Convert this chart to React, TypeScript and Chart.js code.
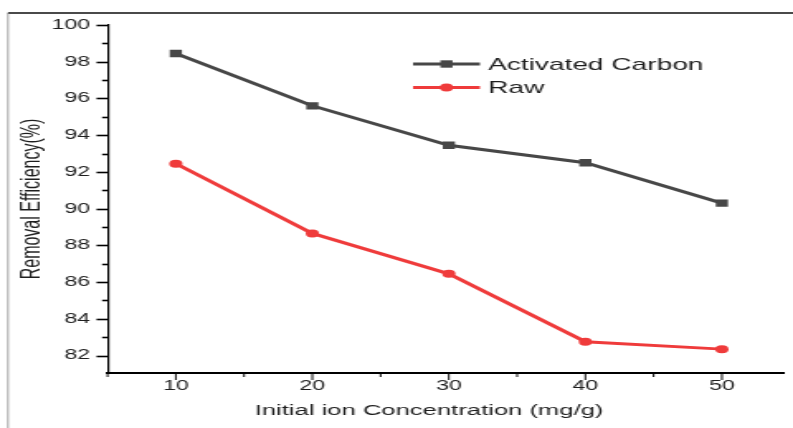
import React, { useEffect, useRef } from "react";
import { Chart, registerables } from "chart.js";

Chart.register(...registerables);

// Removal efficiency vs. initial ion concentration
const concentrations = [10, 20, 30, 40, 50];
const activatedCarbon = [98.45, 95.6, 93.45, 92.5, 90.3];
const raw = [92.45, 88.65, 86.45, 82.75, 82.35];
const seriesNames = ["Activated Carbon", "Raw"];
const xTickValues = [10, 20, 30, 40, 50];
const yTickValues = [82, 84, 86, 88, 90, 92, 94, 96, 98, 100];
const xTitle = "Initial ion Concentration (mg/g)";
const yTitle = "Removal Efficiency(%)";

// The plot is drawn on a narrow bitmap and widened by CSS,
// which gives the horizontally stretched look of the figure.
const VIEW_W = 793;
const VIEW_H = 428;
const STRETCH = 1.652;
const CANVAS_W = Math.round(VIEW_W / STRETCH);

const FONT = "'Liberation Sans', Arial, Helvetica, sans-serif";
const TEXT = "#1e1e1e";
const AXIS = "#000000";

const PLOT_TOP = 25;
const PLOT_BOTTOM = 373;
const PLOT_LEFT = 65.1;
const PLOT_RIGHT = 478.2;

function drawMarker(ctx: CanvasRenderingContext2D, style: string, x: number, y: number, r: number, color: string) {
  ctx.fillStyle = color;
  ctx.beginPath();
  if (style === "rect") {
    const s = r * Math.SQRT1_2;
    ctx.rect(x - s, y - s, 2 * s, 2 * s);
  } else {
    ctx.arc(x, y, r, 0, Math.PI * 2);
  }
  ctx.fill();
}

const decorations = {
  id: "decorations",
  beforeDraw(chart: any) {
    const ctx: CanvasRenderingContext2D = chart.ctx;
    ctx.save();
    // frame: top and left edges
    ctx.strokeStyle = "#4a4a4a";
    ctx.lineWidth = 2;
    ctx.beginPath();
    ctx.moveTo(4.8, 13);
    ctx.lineTo(chart.width, 13);
    ctx.stroke();
    ctx.strokeStyle = "#777777";
    ctx.lineWidth = 0.7;
    ctx.beginPath();
    ctx.moveTo(4.85, 13);
    ctx.lineTo(4.85, chart.height);
    ctx.stroke();
    ctx.restore();
  },
  afterDraw(chart: any) {
    const ctx: CanvasRenderingContext2D = chart.ctx;
    const { chartArea, scales } = chart;
    const xs = scales.x;
    const ys = scales.y;
    ctx.save();
    ctx.strokeStyle = AXIS;

    // y tick marks: long at labelled values, short in between
    ctx.lineWidth = 1.6;
    for (let v = Math.ceil(ys.min); v <= ys.max; v++) {
      const len = v % 2 === 0 ? 6.7 : 3.3;
      const py = Math.round(ys.getPixelForValue(v)) + 0.5;
      ctx.beginPath();
      ctx.moveTo(chartArea.left - len, py);
      ctx.lineTo(chartArea.left, py);
      ctx.stroke();
    }

    // x tick marks
    ctx.lineWidth = 1.6 / STRETCH;
    for (let v = 5; v <= xs.max; v += 5) {
      const len = v % 10 === 0 ? 7 : 4;
      const px = xs.getPixelForValue(v);
      ctx.beginPath();
      ctx.moveTo(px, chartArea.bottom);
      ctx.lineTo(px, chartArea.bottom + len);
      ctx.stroke();
    }

    // x axis title
    ctx.fillStyle = TEXT;
    ctx.font = `15.5px ${FONT}`;
    ctx.textAlign = "center";
    ctx.textBaseline = "middle";
    ctx.fillText(xTitle, chartArea.left + (chartArea.right - chartArea.left) * 0.475, 411);

    // legend
    const lx0 = 250;
    const lx1 = 290.5;
    const rows = [64, 87.5];
    chart.data.datasets.forEach((ds: any, i: number) => {
      const y = rows[i];
      ctx.strokeStyle = ds.borderColor;
      ctx.lineWidth = ds.borderWidth;
      ctx.beginPath();
      ctx.moveTo(lx0, y);
      ctx.lineTo(lx1, y);
      ctx.stroke();
      drawMarker(ctx, ds.pointStyle, (lx0 + lx1) / 2, y, ds.pointRadius, ds.pointBackgroundColor);
      ctx.fillStyle = TEXT;
      ctx.font = `17px ${FONT}`;
      ctx.textAlign = "left";
      ctx.textBaseline = "middle";
      ctx.fillText(ds.label, 295.4, y + 1);
    });
    ctx.restore();
  },
};

export default function App() {
  const canvasRef = useRef<HTMLCanvasElement | null>(null);

  useEffect(() => {
    const canvas = canvasRef.current;
    if (!canvas) return;
    const chart = new Chart(canvas, {
      type: "line",
      data: {
        datasets: [
          {
            label: seriesNames[0],
            data: concentrations.map((x, i) => ({ x, y: activatedCarbon[i] })),
            borderColor: "#474747",
            backgroundColor: "#474747",
            pointBackgroundColor: "#474747",
            pointBorderWidth: 0,
            pointStyle: "rect",
            pointRadius: 5.2,
            borderWidth: 3,
            tension: 0,
          },
          {
            label: seriesNames[1],
            data: concentrations.map((x, i) => ({ x, y: raw[i] })),
            borderColor: "#ef3b3b",
            backgroundColor: "#ef3b3b",
            pointBackgroundColor: "#ef3b3b",
            pointBorderWidth: 0,
            pointStyle: "circle",
            pointRadius: 4,
            borderWidth: 3,
            tension: 0,
          },
        ],
      },
      options: {
        responsive: false,
        animation: false,
        devicePixelRatio: 1,
        layout: { padding: { top: PLOT_TOP, right: CANVAS_W - PLOT_RIGHT, bottom: 0, left: 0 } },
        plugins: {
          legend: { display: false },
          tooltip: { enabled: false },
        },
        scales: {
          x: {
            type: "linear",
            min: 5,
            max: 54.58,
            grid: { display: false, drawTicks: false },
            border: { display: true, color: AXIS, width: 2 },
            afterBuildTicks: (s: any) => {
              s.ticks = xTickValues.map((value) => ({ value }));
            },
            afterFit: (s: any) => {
              s.height = VIEW_H - PLOT_BOTTOM;
            },
            ticks: {
              autoSkip: false,
              maxRotation: 0,
              padding: 5,
              color: TEXT,
              font: { family: FONT, size: 14 },
            },
          },
          y: {
            type: "linear",
            min: 81.05,
            max: 100,
            grid: { display: false, drawTicks: false },
            border: { display: true, color: AXIS, width: 1.2 },
            afterBuildTicks: (s: any) => {
              s.ticks = yTickValues.map((value) => ({ value }));
            },
            afterFit: (s: any) => {
              s.width = PLOT_LEFT;
            },
            ticks: {
              padding: 10.5,
              color: TEXT,
              font: { family: FONT, size: 14 },
            },
            title: {
              display: true,
              text: yTitle,
              color: TEXT,
              font: { family: FONT, size: 16 },
              padding: { top: 9.5, bottom: 0 },
            },
          },
        },
      },
      plugins: [decorations],
    } as any);
    return () => chart.destroy();
  }, []);

  return (
    <div
      style={{
        position: "fixed",
        left: 0,
        top: 0,
        width: VIEW_W,
        height: VIEW_H,
        background: "#ffffff",
        overflow: "hidden",
      }}
    >
      <canvas
        ref={canvasRef}
        width={CANVAS_W}
        height={VIEW_H}
        style={{ width: `${VIEW_W}px`, height: `${VIEW_H}px`, display: "block" }}
      />
    </div>
  );
}
